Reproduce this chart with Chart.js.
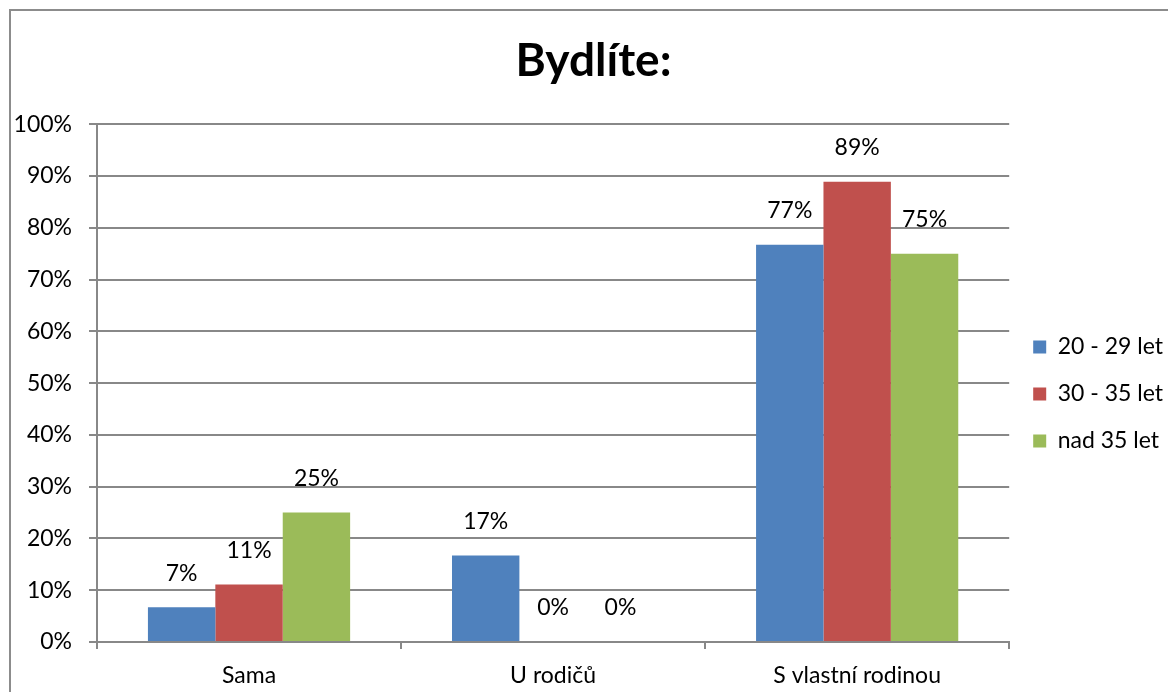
<!DOCTYPE html>
<html>
<head>
<meta charset="utf-8">
<script src="https://cdn.jsdelivr.net/npm/chart.js@4/dist/chart.umd.min.js"></script>
<style>
  body { margin: 0; background: #fff; overflow: hidden; }
  #frame { position: absolute; left: 9px; top: 9px; width: 1200px; height: 720px; border: 2px solid #8c8c8c; }
  #chart { position: absolute; left: 0; top: 0; }
</style>
</head>
<body>
<div id="frame"></div>
<canvas id="chart" width="1190" height="692"></canvas>
<script>
const categories = ['Sama', 'U rodičů', 'S vlastní rodinou'];
const seriesNames = ['20 - 29 let', '30 - 35 let', 'nad 35 let'];
const young = [6.7, 16.7, 76.7];
const middle = [11.1, 0, 88.9];
const older = [25, 0, 75];
const yTicks = [0, 10, 20, 30, 40, 50, 60, 70, 80, 90, 100];

const colors = ['#4F81BD', '#C0504D', '#9BBB59'];
const fontFamily = 'Lato, "Open Sans", sans-serif';
const gridColor = '#888888';

// value labels above each bar
const barLabels = {
    id: 'barLabels',
    afterDatasetsDraw(chart) {
        const ctx = chart.ctx;
        ctx.save();
        ctx.font = '23px ' + fontFamily;
        ctx.fillStyle = '#000';
        ctx.textAlign = 'center';
        ctx.textBaseline = 'middle';
        chart.data.datasets.forEach((ds, i) => {
            chart.getDatasetMeta(i).data.forEach((bar, j) => {
                ctx.fillText(Math.round(ds.data[j]) + '%', bar.x, bar.y - 34);
            });
        });
        ctx.restore();
    }
};

new Chart(document.getElementById('chart'), {
    type: 'bar',
    data: {
        labels: categories,
        datasets: [young, middle, older].map((d, i) => ({
            label: seriesNames[i],
            data: d,
            backgroundColor: colors[i],
            categoryPercentage: 0.665,
            barPercentage: 1
        }))
    },
    options: {
        responsive: false,
        animation: false,
        devicePixelRatio: 1,
        layout: { padding: { left: 14, right: 17, top: 0, bottom: 0 } },
        plugins: {
            title: {
                display: true,
                text: 'Bydlíte:',
                color: '#000',
                font: { family: fontFamily, size: 46, weight: 'bold' },
                padding: { top: 34, bottom: 35 }
            },
            legend: {
                position: 'right',
                title: { display: true, text: '', padding: 36, font: { size: 20 } },
                labels: {
                    color: '#000',
                    font: { family: fontFamily, size: 23 },
                    boxWidth: 13,
                    boxHeight: 13,
                    padding: 24
                }
            },
            tooltip: { enabled: false }
        },
        scales: {
            x: {
                grid: { drawOnChartArea: false, drawTicks: true, tickLength: 7, color: gridColor, lineWidth: 2 },
                border: { color: gridColor, width: 2 },
                ticks: { color: '#000', font: { family: fontFamily, size: 23 }, padding: 13 },
                afterFit(s) { s.height = 50; }
            },
            y: {
                min: 0,
                max: 100,
                afterBuildTicks(s) { s.ticks = yTicks.map(v => ({ value: v })); },
                grid: { color: gridColor, lineWidth: 2, tickLength: 8 },
                border: { color: gridColor, width: 2 },
                ticks: {
                    color: '#000',
                    font: { family: fontFamily, size: 23 },
                    padding: 17,
                    callback: v => v + '%'
                },
                afterFit(s) { s.width = 83; }
            }
        }
    },
    plugins: [barLabels]
});
</script>
</body>
</html>
